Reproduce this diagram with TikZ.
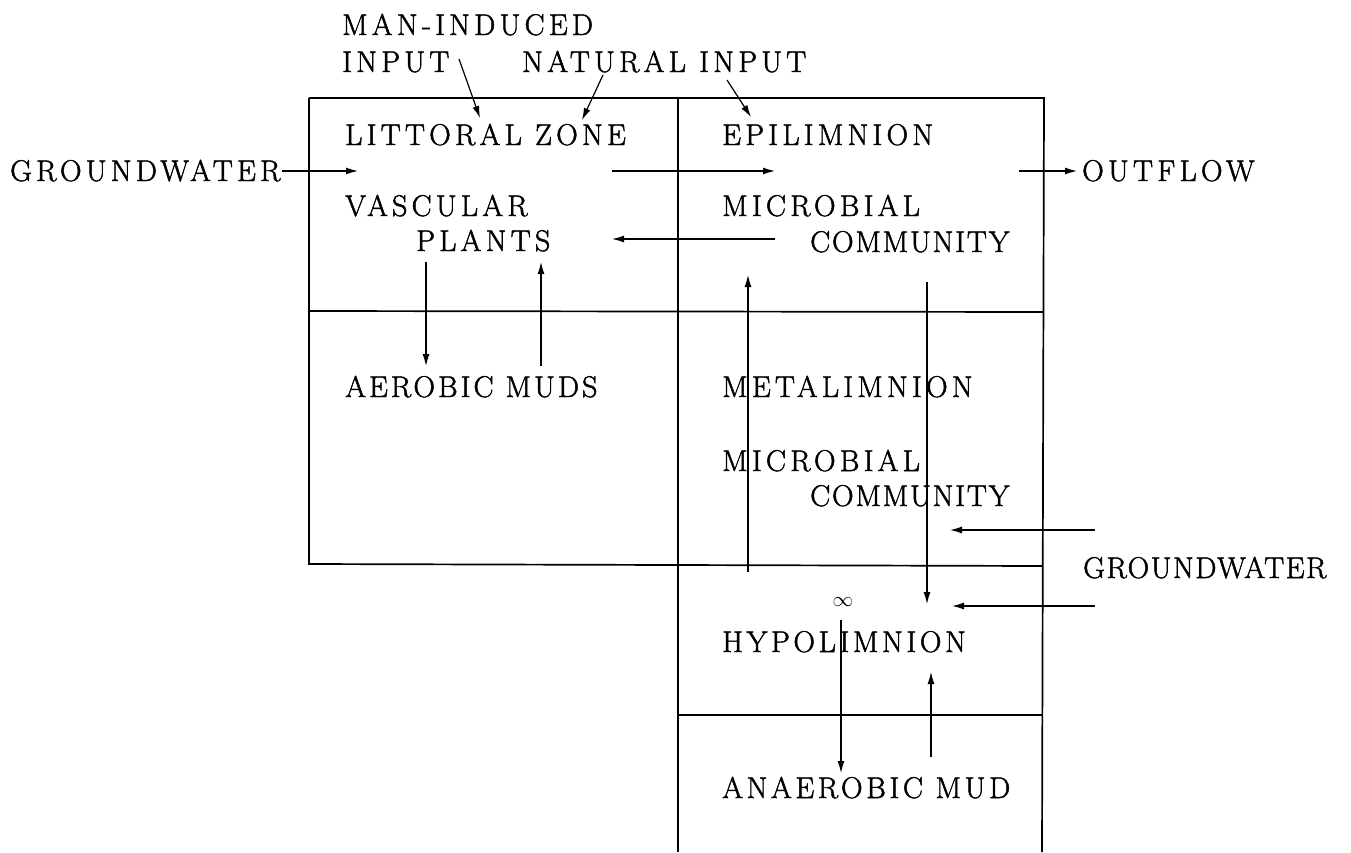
\documentclass[tikz,border=0pt]{standalone}
\usepackage{fontspec}
\setmainfont{Latin Modern Roman}[LetterSpace=14,FakeBold=1.6]
\usetikzlibrary{arrows.meta}
\begin{document}
\begin{tikzpicture}[x=1pt,y=-1pt,
  lbl/.style={anchor=base west,inner sep=0pt,font=\fontsize{30}{34}\selectfont},
  border/.style={line width=1.7pt},
  flow/.style={line width=1.2pt,-{Latex[length=12pt,width=7pt]}}]
\useasboundingbox (0,0) rectangle (1351,852);
% frame
\draw[border] (309,98) -- (1045,98);
\draw[border] (309,98) -- (309,565);
\draw[border] (678,98) -- (678,852);
\draw[border] (1044,98) -- (1042,852);
\draw[border] (309,311) -- (1044,312);
\draw[border] (309,564) -- (1043,566);
\draw[border] (678,715) -- (1043,715);
% labels
\node[lbl] (man) at (342,35) {MAN-INDUCED};
\node[lbl] (maninput) at (342,72) {INPUT};
\node[lbl] (natural) at (522,72) {NATURAL INPUT};
\node[lbl] (littoral) at (345,145) {LITTORAL ZONE};
\node[lbl] (epi) at (722,145) {EPILIMNION};
\node[lbl] (gwl) at (10,181) {GROUNDWATER};
\node[lbl] (outflow) at (1082,181) {OUTFLOW};
\node[lbl] (vasc) at (345,216) {VASCULAR};
\node[lbl] (micro1) at (722,216) {MICROBIAL};
\node[lbl] (plants) at (416,251) {PLANTS};
\node[lbl] (comm1) at (810,252) {\addfontfeature{LetterSpace=6}COMMUNITY};
\node[lbl] (aerobic) at (345,397) {\addfontfeature{LetterSpace=10}AEROBIC MUDS};
\node[lbl] (meta) at (722,397) {METALIMNION};
\node[lbl] (micro2) at (722,471) {MICROBIAL};
\node[lbl] (comm2) at (810,506) {\addfontfeature{LetterSpace=6}COMMUNITY};
\node[lbl] (gwr) at (1083,578) {\addfontfeature{LetterSpace=5}GROUNDWATER};
\node[lbl] (hypo) at (722,652) {\addfontfeature{LetterSpace=12}HYPOLIMNION};
\node[lbl] (anaer) at (722,798) {\addfontfeature{LetterSpace=12}ANAEROBIC MUD};
\node[inner sep=0pt,font=\fontsize{22}{24}\selectfont] (inf) at (843,602) {$\infty$};
% arrow end points
\coordinate (a1s) at (282,171); \coordinate (a1e) at (358,171);
\coordinate (a2s) at (612,171); \coordinate (a2e) at (775,171);
\coordinate (a3s) at (1019,171); \coordinate (a3e) at (1077,171);
\coordinate (a4s) at (775,239); \coordinate (a4e) at (612,239);
\coordinate (a5s) at (426,262); \coordinate (a5e) at (426,366);
\coordinate (a6s) at (541,366); \coordinate (a6e) at (541,262);
\coordinate (a7s) at (748,572); \coordinate (a7e) at (748,275);
\coordinate (a8s) at (927,282); \coordinate (a8e) at (927,604);
\coordinate (a9s) at (1095,530); \coordinate (a9e) at (950,530);
\coordinate (a10s) at (1095,606); \coordinate (a10e) at (952,606);
\coordinate (a11s) at (841,620); \coordinate (a11e) at (841,773);
\coordinate (a12s) at (931,757); \coordinate (a12e) at (931,672);
\coordinate (a13s) at (459,59); \coordinate (a13e) at (480,118);
\coordinate (a14s) at (603,75); \coordinate (a14e) at (582,120);
\coordinate (a15s) at (727,80); \coordinate (a15e) at (751,117);
\foreach \i in {1,...,15} {\draw[flow] (a\i s) -- (a\i e);}
\end{tikzpicture}
\end{document}
